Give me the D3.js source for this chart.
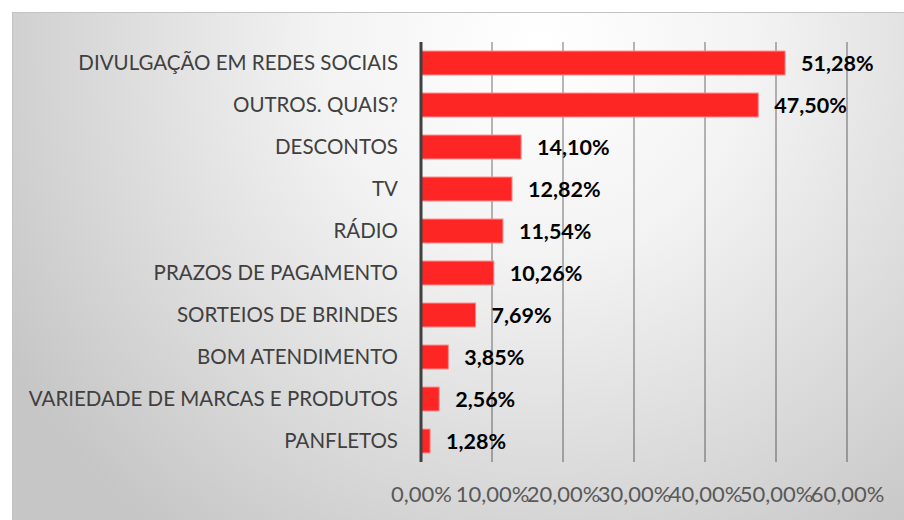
<!DOCTYPE html>
<html lang="pt">
<head>
    <meta charset="UTF-8">
    <title>Bar Chart</title>
    <script src="https://d3js.org/d3.v7.min.js"></script>
    <style>
        body { margin: 0; background: #fff; }
        svg { display: block; font-family: Lato, "Open Sans", sans-serif; }
    </style>
</head>
<body>
    <svg width="904" height="520"></svg>
    <script>
        const categories = [
            "DIVULGAÇÃO EM REDES SOCIAIS",
            "OUTROS. QUAIS?",
            "DESCONTOS",
            "TV",
            "RÁDIO",
            "PRAZOS DE PAGAMENTO",
            "SORTEIOS DE BRINDES",
            "BOM ATENDIMENTO",
            "VARIEDADE DE MARCAS E PRODUTOS",
            "PANFLETOS"
        ];
        const values = [51.28, 47.50, 14.10, 12.82, 11.54, 10.26, 7.69, 3.85, 2.56, 1.28];
        const ticks = [0, 10, 20, 30, 40, 50, 60];

        const svg = d3.select("svg");
        const margin = {top: 42, left: 421, right: 57, bottom: 58};

        const fmt = v => v.toFixed(2).replace(".", ",") + "%";

        // background with soft radial shading
        const grad = svg.append("defs").append("radialGradient")
            .attr("id", "bg")
            .attr("gradientUnits", "userSpaceOnUse")
            .attr("cx", 540).attr("cy", 40).attr("r", 620);
        grad.append("stop").attr("offset", 0).attr("stop-color", "#ffffff");
        grad.append("stop").attr("offset", 0.35).attr("stop-color", "#f3f3f3");
        grad.append("stop").attr("offset", 1).attr("stop-color", "#c6c6c6");

        svg.append("rect")
            .attr("x", 12.5).attr("y", 12.5)
            .attr("width", 900).attr("height", 520)
            .attr("fill", "url(#bg)")
            .attr("stroke", "#c3c3c3");

        const g = svg.append("g")
            .attr("transform", `translate(${margin.left},${margin.top})`);

        const x = d3.scaleLinear().domain([0, 60]).range([0, 426]);
        const y = d3.scaleBand().domain(categories).range([0, 420]).paddingInner(0.43).paddingOuter(0.215);

        // gridlines
        g.selectAll(".grid")
            .data(ticks.slice(1))
            .enter().append("line")
            .attr("class", "grid")
            .attr("x1", d => x(d)).attr("x2", d => x(d))
            .attr("y1", 0).attr("y2", 420)
            .attr("stroke", "rgba(0,0,0,0.28)")
            .attr("stroke-width", 2);

        // x axis labels
        const xAxis = g.append("g")
            .attr("transform", "translate(0,420)")
            .call(d3.axisBottom(x).tickValues(ticks).tickFormat(fmt).tickSize(0).tickPadding(24));
        xAxis.select(".domain").remove();
        xAxis.selectAll("text")
            .attr("fill", "#595959")
            .style("font-size", "22px")
            .style("font-family", "Lato, sans-serif");

        // category labels
        const yAxis = g.append("g")
            .call(d3.axisLeft(y).tickSize(0).tickPadding(23));
        yAxis.select(".domain").remove();
        yAxis.selectAll("text")
            .attr("fill", "#404040")
            .style("font-size", "20.5px")
            .style("font-family", "Lato, sans-serif");

        // bars
        g.selectAll(".bar")
            .data(values)
            .enter().append("rect")
            .attr("class", "bar")
            .attr("x", 0)
            .attr("y", (d, i) => y(categories[i]))
            .attr("width", d => x(d))
            .attr("height", y.bandwidth())
            .attr("fill", "#fe2525")
            .attr("stroke", "#ff8a8a")
            .attr("stroke-width", 1);

        // value labels
        g.selectAll(".val")
            .data(values)
            .enter().append("text")
            .attr("class", "val")
            .attr("x", d => x(d) + 16)
            .attr("y", (d, i) => y(categories[i]) + y.bandwidth() / 2)
            .attr("dy", "0.36em")
            .attr("fill", "#000")
            .style("font-size", "21.5px")
            .style("font-weight", "bold")
            .text(fmt);

        // vertical axis line
        g.append("line")
            .attr("x1", 0).attr("x2", 0)
            .attr("y1", 0).attr("y2", 420)
            .attr("stroke", "#404040")
            .attr("stroke-width", 3);
    </script>
</body>
</html>
